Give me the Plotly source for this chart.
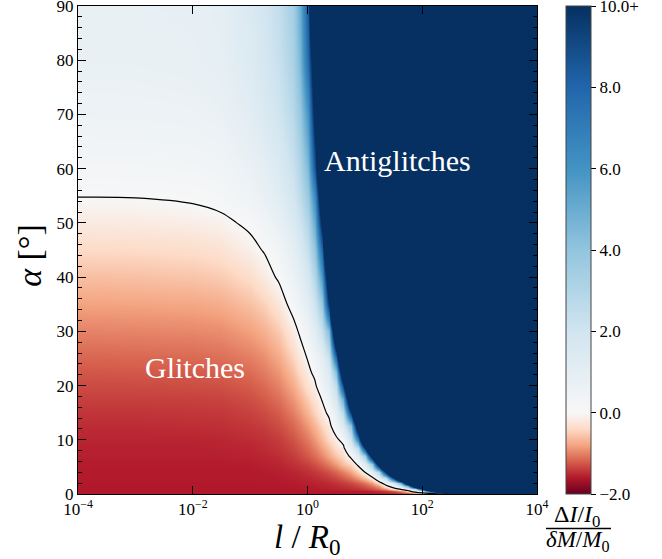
import plotly.graph_objects as go

# log10(l / R0) grid columns
log_l_over_R0 = [-4, -3, -2, -1.5, -1, -0.75, -0.5, -0.25, -0.125, 0, 0.125, 0.25, 0.375, 0.5,
                 0.625, 0.75, 0.875, 1.0, 1.125, 1.25, 1.375, 1.5, 1.625, 1.75, 1.875, 2.0,
                 2.25, 2.5, 3, 4]
# alpha (degrees) grid rows
alpha_deg = [0, 0.5, 1, 1.5, 2, 3, 4, 5.5, 7, 8.5, 10, 12.5, 15, 17.5, 20, 22.5, 25, 30, 35, 40,
             45, 50, 55, 60, 70, 80, 90]

# (dI/I0)/(dM/M0), one list per alpha row
z_a00_0 = [-1.60, -1.60, -1.60, -1.60, -1.60, -1.60, -1.60, -1.60, -1.60, -1.60, -1.60, -1.60, -1.60, -1.60, -1.60,
           -1.60, -1.60, -1.60, -1.60, -1.60, -1.60, -1.60, -1.60, -1.60, -1.45, -1.40, -1.20, 0.50, 30, 30]
z_a00_5 = [-1.60, -1.60, -1.60, -1.60, -1.60, -1.60, -1.60, -1.60, -1.60, -1.60, -1.60, -1.60, -1.60, -1.60, -1.60,
           -1.59, -1.58, -1.56, -1.53, -1.48, -1.40, -1.25, -0.95, -0.40, 0.59, 1.90, 16.6, 37, 40, 40]
z_a01_0 = [-1.60, -1.60, -1.60, -1.60, -1.60, -1.60, -1.60, -1.60, -1.59, -1.59, -1.58, -1.57, -1.56, -1.54, -1.52,
           -1.49, -1.45, -1.39, -1.30, -1.15, -0.90, -0.25, 0.40, 1.00, 2.70, 10.0, 31, 40, 40, 40]
z_a01_5 = [-1.60, -1.60, -1.60, -1.60, -1.60, -1.60, -1.60, -1.60, -1.59, -1.58, -1.57, -1.55, -1.53, -1.50, -1.47,
           -1.42, -1.35, -1.25, -1.10, -0.85, -0.12, 0.63, 1.70, 5.20, 15.4, 26, 40, 40, 40, 40]
z_a02_0 = [-1.60, -1.60, -1.60, -1.60, -1.60, -1.59, -1.59, -1.58, -1.57, -1.56, -1.54, -1.52, -1.49, -1.45, -1.40,
           -1.33, -1.23, -1.08, -0.85, -0.35, 0.50, 1.65, 5.00, 15.0, 25.4, 35.7, 40, 40, 40, 40]
z_a03_0 = [-1.59, -1.59, -1.59, -1.59, -1.59, -1.59, -1.58, -1.56, -1.54, -1.52, -1.49, -1.45, -1.40, -1.33, -1.23,
           -1.08, -0.88, -0.60, -0.18, 1.00, 2.70, 10.0, 20.4, 30.8, 40, 40, 40, 40, 40, 40]
z_a04_0 = [-1.59, -1.59, -1.59, -1.59, -1.59, -1.58, -1.56, -1.53, -1.50, -1.47, -1.42, -1.36, -1.28, -1.17, -1.02,
           -0.80, -0.48, -0.03, 1.11, 3.00, 10.8, 21.2, 31.6, 40, 40, 40, 40, 40, 40, 40]
z_a05_5 = [-1.58, -1.58, -1.58, -1.58, -1.57, -1.55, -1.52, -1.47, -1.42, -1.36, -1.28, -1.17, -1.03, -0.85, -0.60,
           -0.40, 0.09, 1.35, 3.70, 12.7, 23.1, 33.5, 40, 40, 40, 40, 40, 40, 40, 40]
z_a07_0 = [-1.56, -1.56, -1.56, -1.56, -1.54, -1.52, -1.48, -1.40, -1.33, -1.24, -1.12, -0.97, -0.78, -0.55, -0.38,
           0.10, 1.27, 3.50, 12.1, 22.5, 32.8, 40, 40, 40, 40, 40, 40, 40, 40, 40]
z_a08_5 = [-1.55, -1.55, -1.55, -1.54, -1.52, -1.49, -1.44, -1.34, -1.26, -1.15, -1.00, -0.82, -0.60, -0.36, -0.15,
           1.00, 2.70, 10.0, 20.4, 30.8, 40, 40, 40, 40, 40, 40, 40, 40, 40, 40]
z_a10_0 = [-1.53, -1.53, -1.53, -1.52, -1.49, -1.46, -1.40, -1.28, -1.18, -1.05, -0.88, -0.66, -0.40, -0.16, 0.25,
           2.00, 6.70, 17.1, 27.4, 37.8, 40, 40, 40, 40, 40, 40, 40, 40, 40, 40]
z_a12_5 = [-1.49, -1.49, -1.48, -1.47, -1.43, -1.39, -1.31, -1.16, -1.04, -0.87, -0.67, -0.44, -0.20, 0.46, 1.42,
           4.00, 13.2, 23.6, 34.0, 40, 40, 40, 40, 40, 40, 40, 40, 40, 40, 40]
z_a15_0 = [-1.44, -1.44, -1.43, -1.42, -1.37, -1.32, -1.22, -1.03, -0.88, -0.68, -0.45, -0.20, 0.12, 0.95, 2.60,
           9.60, 20.0, 30.3, 40, 40, 40, 40, 40, 40, 40, 40, 40, 40, 40, 40]
z_a17_5 = [-1.38, -1.38, -1.37, -1.36, -1.30, -1.23, -1.11, -0.89, -0.72, -0.49, -0.27, 0.02, 0.67, 1.70, 5.00,
           15.1, 25.5, 35.9, 40, 40, 40, 40, 40, 40, 40, 40, 40, 40, 40, 40]
z_a20_0 = [-1.32, -1.32, -1.31, -1.29, -1.22, -1.14, -1.00, -0.75, -0.55, -0.30, -0.12, 0.45, 1.10, 2.50, 9.10,
           19.5, 29.8, 40, 40, 40, 40, 40, 40, 40, 40, 40, 40, 40, 40, 40]
z_a22_5 = [-1.25, -1.24, -1.23, -1.20, -1.13, -1.04, -0.88, -0.60, -0.38, -0.17, 0.15, 0.75, 1.50, 4.30, 13.7,
           24.1, 34.5, 40, 40, 40, 40, 40, 40, 40, 40, 40, 40, 40, 40, 40]
z_a25_0 = [-1.17, -1.16, -1.15, -1.12, -1.03, -0.94, -0.76, -0.45, -0.22, 0.02, 0.45, 1.00, 2.20, 7.75, 18.1,
           28.5, 38.9, 40, 40, 40, 40, 40, 40, 40, 40, 40, 40, 40, 40, 40]
z_a30_0 = [-1.00, -0.99, -0.97, -0.94, -0.82, -0.71, -0.52, -0.17, 0.08, 0.50, 1.20, 2.30, 4.50, 15.5, 30,
           30, 30, 30, 30, 30, 30, 30, 30, 30, 30, 30, 30, 30, 30, 30]
z_a35_0 = [-0.81, -0.80, -0.78, -0.74, -0.60, -0.47, -0.24, 0.17, 0.55, 1.15, 2.10, 3.80, 10.1, 30, 30,
           30, 30, 30, 30, 30, 30, 30, 30, 30, 30, 30, 30, 30, 30, 30]
z_a40_0 = [-0.61, -0.60, -0.57, -0.52, -0.36, -0.19, 0.06, 0.60, 1.05, 1.75, 3.00, 5.80, 13.2, 30, 30,
           30, 30, 30, 30, 30, 30, 30, 30, 30, 30, 30, 30, 30, 30, 30]
z_a45_0 = [-0.40, -0.39, -0.36, -0.30, -0.12, 0.03, 0.35, 0.95, 1.50, 2.40, 4.00, 8.00, 18.0, 30, 30,
           30, 30, 30, 30, 30, 30, 30, 30, 30, 30, 30, 30, 30, 30, 30]
z_a50_0 = [-0.19, -0.18, -0.145, -0.09, 0.08, 0.35, 0.80, 1.45, 2.05, 3.00, 5.20, 10.8, 30, 30, 30,
           30, 30, 30, 30, 30, 30, 30, 30, 30, 30, 30, 30, 30, 30, 30]
z_a55_0 = [0.01, 0.015, 0.06, 0.15, 0.45, 0.75, 1.20, 1.90, 2.60, 3.80, 6.50, 13.3, 30, 30, 30,
           30, 30, 30, 30, 30, 30, 30, 30, 30, 30, 30, 30, 30, 30, 30]
z_a60_0 = [0.20, 0.21, 0.25, 0.35, 0.70, 1.00, 1.45, 2.20, 3.00, 4.50, 8.80, 15.9, 30, 30, 30,
           30, 30, 30, 30, 30, 30, 30, 30, 30, 30, 30, 30, 30, 30, 30]
z_a70_0 = [0.52, 0.53, 0.58, 0.70, 1.15, 1.50, 2.00, 2.80, 3.80, 6.00, 11.1, 30, 30, 30, 30,
           30, 30, 30, 30, 30, 30, 30, 30, 30, 30, 30, 30, 30, 30, 30]
z_a80_0 = [0.73, 0.74, 0.80, 0.92, 1.40, 1.80, 2.30, 3.20, 4.60, 7.80, 12.5, 30, 30, 30, 30,
           30, 30, 30, 30, 30, 30, 30, 30, 30, 30, 30, 30, 30, 30, 30]
z_a90_0 = [0.80, 0.81, 0.87, 1.00, 1.50, 1.90, 2.45, 3.40, 5.00, 8.50, 17.9, 30, 30, 30, 30,
           30, 30, 30, 30, 30, 30, 30, 30, 30, 30, 30, 30, 30, 30, 30]

z_rows = [z_a00_0, z_a00_5, z_a01_0, z_a01_5, z_a02_0, z_a03_0, z_a04_0, z_a05_5, z_a07_0, z_a08_5,
          z_a10_0, z_a12_5, z_a15_0, z_a17_5, z_a20_0, z_a22_5, z_a25_0, z_a30_0, z_a35_0, z_a40_0,
          z_a45_0, z_a50_0, z_a55_0, z_a60_0, z_a70_0, z_a80_0, z_a90_0]

cbar_tickvals = [-2, 0, 2, 4, 6, 8, 10]
cbar_ticktext = ["\u22122.0", "0.0", "2.0", "4.0", "6.0", "8.0", "10.0+"]
x_tickvals = [1e-4, 1e-2, 1, 1e2, 1e4]
x_ticktext = ["10<sup>\u22124</sup>", "10<sup>\u22122</sup>", "10<sup>0</sup>", "10<sup>2</sup>", "10<sup>4</sup>"]

l_vals = [10 ** v for v in log_l_over_R0]

# RdBu diverging map centred at 0 (vmin -2, vmax 10)
red_half = ["#67001f", "#b2182b", "#d6604d", "#f4a582", "#fddbc7", "#f7f7f7"]
blue_half = ["#f7f7f7", "#d1e5f0", "#92c5de", "#4393c3", "#2166ac", "#053061"]
zmin, zmid, zmax = -2.0, 0.0, 10.0
pmid = (zmid - zmin) / (zmax - zmin)
colorscale = []
for i, c in enumerate(red_half):
    colorscale.append([pmid * i / 5, c])
for i, c in enumerate(blue_half[1:], start=1):
    colorscale.append([pmid + (1 - pmid) * i / 5, c])

FONT = "Liberation Serif"

fig = go.Figure()
fig.add_trace(go.Heatmap(
    x=l_vals, y=alpha_deg, z=z_rows, zmin=zmin, zmax=zmax, zsmooth="best",
    colorscale=colorscale, hoverinfo="skip",
    colorbar=dict(
        x=1.0632, xanchor="left", xpad=0, y=0.5, yanchor="middle", len=1, lenmode="fraction",
        ypad=0, thickness=25, thicknessmode="pixels", outlinewidth=1, outlinecolor="#444",
        tickvals=cbar_tickvals, ticktext=cbar_ticktext, ticks="outside", ticklen=5,
        tickcolor="black", tickwidth=1, ticklabeloverflow="allow",
        tickfont=dict(family=FONT, size=17, color="black"),
    ),
))
fig.add_trace(go.Contour(
    x=l_vals, y=alpha_deg, z=z_rows, showscale=False, hoverinfo="skip",
    contours=dict(start=0, end=0, size=1, coloring="none"),
    line=dict(color="black", width=1.2, smoothing=1),
))

fig.update_layout(
    width=662, height=559,
    margin=dict(l=78, r=125, t=6, b=65, autoexpand=False),
    paper_bgcolor="white", plot_bgcolor="white",
    font=dict(family=FONT, color="black"),
    showlegend=False,
    xaxis=dict(
        type="log", range=[-4, 4], tickvals=x_tickvals, ticktext=x_ticktext,
        ticks="inside", ticklen=8, tickwidth=1, tickcolor="black",
        mirror="allticks", showline=True, linecolor="black", linewidth=1,
        showgrid=False, zeroline=False, ticklabeloverflow="allow",
        tickfont=dict(family=FONT, size=17, color="black"),
    ),
    yaxis=dict(
        range=[0, 90], tick0=0, dtick=10,
        ticks="inside", ticklen=8, tickwidth=1, tickcolor="black",
        minor=dict(dtick=2, ticks="inside", ticklen=4, tickcolor="black", tickwidth=1),
        mirror="allticks", showline=True, linecolor="black", linewidth=1,
        showgrid=False, zeroline=False, ticklabeloverflow="allow",
        tickfont=dict(family=FONT, size=17, color="black"),
    ),
)

anns = [
    dict(text="Antiglitches", x=0.697, y=0.684, font=dict(size=30, color="white", family=FONT)),
    dict(text="Glitches", x=0.255, y=0.260, font=dict(size=30, color="white", family=FONT)),
    dict(text="<i>l</i> / <i>R</i><sub>0</sub>", x=0.501, y=-0.093, font=dict(size=33, family=FONT)),
    dict(text="<i>\u03b1</i> [\u00b0]", x=-0.1046, y=0.49, textangle=-90, font=dict(size=34, family=FONT)),
    dict(text="\u0394<i>I</i>/<i>I</i><sub>0</sub>", x=1.0893, y=-0.0451, font=dict(size=24, family=FONT)),
    dict(text="<i>\u03b4M</i>/<i>M</i><sub>0</sub>", x=1.0893, y=-0.0963, font=dict(size=23, family=FONT)),
]
for a in anns:
    fig.add_annotation(xref="paper", yref="paper", showarrow=False, xanchor="center", yanchor="middle", **a)

fig.add_shape(type="line", xref="paper", yref="paper", x0=1.0196, x1=1.1612, y0=-0.0707, y1=-0.0707,
              line=dict(color="black", width=1.5))

fig.write_html("out.html", config={"displayModeBar": False},
               post_script="document.body.style.margin='0';document.body.style.overflow='hidden';")
